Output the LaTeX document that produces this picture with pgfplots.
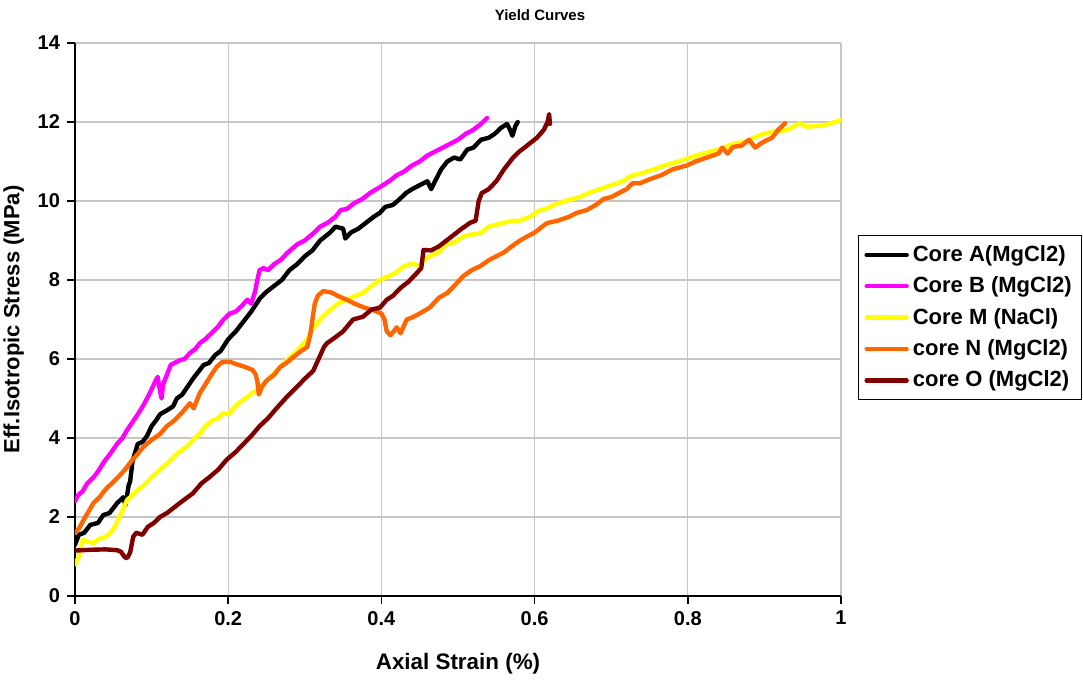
\documentclass[border=0pt]{standalone}
\usepackage{fontspec}
\setmainfont{Liberation Sans}
\usepackage{pgfplots}
\pgfplotsset{compat=1.18}
\definecolor{cA}{RGB}{0,0,0}
\definecolor{cB}{RGB}{255,0,255}
\definecolor{cM}{RGB}{255,255,0}
\definecolor{cN}{RGB}{255,102,0}
\definecolor{cO}{RGB}{128,0,0}
\begin{document}
\begin{tikzpicture}
\useasboundingbox (-37.5pt,-44pt) rectangle (504pt,298pt);
\begin{axis}[at={(0,0)}, anchor=south west, scale only axis,
  width=383pt, height=276.5pt,
  xmin=0, xmax=1, ymin=0, ymax=14,
  xtick={0,0.2,0.4,0.6,0.8,1}, ytick={0,2,4,6,8,10,12,14},
  xticklabels={0,0.2,0.4,0.6,0.8,1},
  axis x line*=bottom, axis y line*=left,
  axis line style={black, line width=1pt},
  tick align=outside, major tick length=4pt,
  tick style={black, line width=0.8pt},
  grid=major, major grid style={gray!45, line width=0.6pt},
  /pgf/number format/assume math mode=true,
  ticklabel style={font=\bfseries\fontsize{10}{12}\selectfont},
  xlabel={Axial Strain (\%)}, ylabel={Eff.Isotropic Stress (MPa)},
  xlabel style={font=\bfseries\fontsize{11.2}{13}\selectfont, at={(axis description cs:0.5,0)}, anchor=north, yshift=-25pt},
  ylabel style={font=\bfseries\fontsize{11}{13}\selectfont, at={(axis description cs:0,0.5)}, anchor=south, yshift=22pt},
  legend cell align=left,
  legend style={at={(1.022,0.653)}, anchor=north west, draw=black, line width=0.6pt,
    font=\bfseries\fontsize{11}{13}\selectfont, row sep=2.2pt, inner sep=3pt},
  legend image code/.code={\draw[line width=2.2pt] (0pt,0pt) -- (20pt,0pt);},
  every axis plot/.append style={line width=2.2pt, line join=round, line cap=round},
]
\addplot[cA] coordinates {
(0,1.3)(0.005,1.55)(0.012,1.6)(0.02,1.8)(0.03,1.85)(0.037,2.05)(0.045,2.1)(0.055,2.35)
(0.063,2.5)(0.066,2.3)(0.07,2.8)(0.072,2.9)(0.075,3.4)(0.078,3.6)(0.082,3.85)(0.088,3.9)
(0.094,4.05)(0.1,4.3)(0.106,4.45)(0.111,4.6)(0.12,4.7)(0.128,4.8)(0.133,5.0)(0.14,5.1)
(0.147,5.3)(0.154,5.5)(0.16,5.65)(0.168,5.85)(0.175,5.9)(0.183,6.1)(0.19,6.2)(0.2,6.5)
(0.21,6.7)(0.22,6.95)(0.23,7.2)(0.242,7.55)(0.25,7.7)(0.26,7.85)(0.27,8.0)(0.28,8.25)
(0.29,8.4)(0.3,8.6)(0.31,8.75)(0.32,9.0)(0.333,9.2)(0.34,9.35)(0.35,9.3)(0.353,9.05)
(0.36,9.2)(0.37,9.3)(0.38,9.45)(0.39,9.6)(0.398,9.7)(0.405,9.85)(0.415,9.9)(0.424,10.05)
(0.432,10.2)(0.44,10.3)(0.45,10.4)(0.46,10.5)(0.465,10.3)(0.47,10.5)(0.478,10.8)(0.486,11.0)
(0.495,11.1)(0.503,11.05)(0.512,11.3)(0.52,11.35)(0.53,11.55)(0.54,11.6)(0.548,11.7)
(0.556,11.85)(0.564,11.95)(0.568,11.8)(0.571,11.65)(0.575,11.9)(0.578,12.0)};
\addlegendentry{Core A(MgCl2)}
\addplot[cB] coordinates {
(0,2.4)(0.004,2.55)(0.01,2.65)(0.016,2.85)(0.024,3.0)(0.03,3.15)(0.038,3.4)(0.046,3.6)
(0.055,3.85)(0.062,4.0)(0.068,4.2)(0.075,4.4)(0.082,4.6)(0.09,4.85)(0.098,5.15)(0.104,5.4)
(0.108,5.55)(0.11,5.3)(0.113,5.0)(0.115,5.35)(0.12,5.6)(0.125,5.85)(0.13,5.9)(0.137,5.97)
(0.143,6.0)(0.15,6.15)(0.157,6.25)(0.163,6.4)(0.17,6.5)(0.178,6.65)(0.186,6.8)(0.194,7.0)
(0.202,7.15)(0.21,7.2)(0.218,7.35)(0.225,7.5)(0.23,7.4)(0.235,7.7)(0.238,8.0)(0.241,8.25)
(0.246,8.3)(0.252,8.25)(0.26,8.4)(0.268,8.5)(0.278,8.7)(0.29,8.9)(0.3,9.0)(0.311,9.18)
(0.32,9.35)(0.33,9.45)(0.34,9.6)(0.347,9.77)(0.355,9.8)(0.365,9.95)(0.375,10.05)(0.385,10.2)
(0.398,10.35)(0.41,10.5)(0.42,10.65)(0.43,10.75)(0.44,10.9)(0.45,11.0)(0.46,11.15)
(0.47,11.25)(0.48,11.35)(0.49,11.45)(0.5,11.55)(0.51,11.7)(0.52,11.8)(0.53,11.95)(0.538,12.1)};
\addlegendentry{Core B (MgCl2)}
\addplot[cM] coordinates {
(0,0.8)(0.005,1.0)(0.01,1.42)(0.016,1.38)(0.024,1.34)(0.032,1.45)(0.04,1.5)(0.046,1.6)
(0.052,1.75)(0.058,2.0)(0.063,2.2)(0.068,2.43)(0.075,2.55)(0.083,2.7)(0.09,2.8)(0.1,3.0)
(0.111,3.2)(0.12,3.35)(0.13,3.55)(0.14,3.7)(0.147,3.8)(0.154,3.95)(0.163,4.1)(0.17,4.3)
(0.18,4.45)(0.187,4.5)(0.193,4.63)(0.2,4.6)(0.207,4.75)(0.215,4.9)(0.225,5.04)(0.232,5.15)
(0.238,5.2)(0.245,5.35)(0.255,5.55)(0.268,5.8)(0.278,6.0)(0.29,6.2)(0.303,6.5)(0.31,6.75)
(0.318,6.95)(0.325,7.1)(0.333,7.24)(0.343,7.4)(0.355,7.5)(0.366,7.6)(0.376,7.67)(0.387,7.85)
(0.398,8.0)(0.41,8.1)(0.42,8.2)(0.43,8.35)(0.441,8.42)(0.45,8.35)(0.455,8.5)(0.463,8.6)
(0.475,8.7)(0.485,8.9)(0.495,8.95)(0.507,9.1)(0.517,9.15)(0.529,9.18)(0.54,9.35)(0.55,9.4)
(0.56,9.45)(0.57,9.5)(0.58,9.5)(0.594,9.6)(0.605,9.75)(0.615,9.8)(0.625,9.9)(0.64,10.0)
(0.659,10.1)(0.67,10.2)(0.685,10.3)(0.7,10.4)(0.715,10.5)(0.728,10.65)(0.74,10.7)(0.755,10.8)
(0.77,10.9)(0.788,11.0)(0.803,11.1)(0.82,11.2)(0.84,11.3)(0.86,11.45)(0.875,11.5)
(0.894,11.67)(0.91,11.75)(0.93,11.8)(0.946,11.97)(0.955,11.88)(0.97,11.9)(0.985,11.95)(1.0,12.05)};
\addlegendentry{Core M (NaCl)}
\addplot[cN] coordinates {
(0,1.6)(0.005,1.7)(0.012,1.95)(0.018,2.15)(0.024,2.35)(0.032,2.5)(0.04,2.7)(0.048,2.85)
(0.056,3.0)(0.063,3.15)(0.068,3.27)(0.075,3.45)(0.082,3.6)(0.089,3.77)(0.1,3.95)(0.111,4.1)
(0.12,4.3)(0.13,4.45)(0.14,4.65)(0.15,4.88)(0.155,4.75)(0.163,5.14)(0.17,5.35)(0.178,5.6)
(0.185,5.8)(0.192,5.92)(0.202,5.93)(0.212,5.86)(0.222,5.8)(0.232,5.72)(0.236,5.6)(0.238,5.45)
(0.24,5.1)(0.244,5.3)(0.25,5.45)(0.26,5.6)(0.268,5.8)(0.276,5.9)(0.285,6.05)(0.295,6.2)
(0.303,6.3)(0.307,6.6)(0.31,7.0)(0.313,7.4)(0.317,7.6)(0.324,7.72)(0.335,7.68)(0.345,7.58)
(0.355,7.5)(0.365,7.4)(0.378,7.3)(0.389,7.24)(0.4,7.15)(0.404,7.0)(0.407,6.7)(0.412,6.6)
(0.416,6.7)(0.42,6.8)(0.425,6.65)(0.433,7.0)(0.44,7.05)(0.45,7.15)(0.463,7.3)(0.475,7.55)
(0.486,7.67)(0.495,7.85)(0.507,8.1)(0.518,8.25)(0.529,8.35)(0.54,8.5)(0.55,8.6)(0.56,8.7)
(0.57,8.85)(0.581,9.0)(0.59,9.1)(0.6,9.2)(0.616,9.44)(0.63,9.5)(0.645,9.6)(0.655,9.7)
(0.668,9.77)(0.68,9.9)(0.69,10.05)(0.7,10.1)(0.71,10.2)(0.72,10.3)(0.728,10.45)(0.738,10.45)
(0.75,10.55)(0.765,10.65)(0.78,10.8)(0.799,10.9)(0.81,11.0)(0.825,11.1)(0.84,11.2)
(0.845,11.35)(0.852,11.2)(0.859,11.37)(0.87,11.4)(0.88,11.55)(0.888,11.35)(0.895,11.45)
(0.903,11.54)(0.91,11.6)(0.918,11.8)(0.927,11.97)};
\addlegendentry{core N (MgCl2)}
\addplot[cO] coordinates {
(0,1.15)(0.02,1.17)(0.04,1.18)(0.055,1.16)(0.06,1.12)(0.065,0.98)(0.068,0.96)(0.072,1.1)
(0.076,1.5)(0.08,1.6)(0.088,1.55)(0.095,1.75)(0.103,1.85)(0.111,2.0)(0.12,2.1)(0.13,2.25)
(0.14,2.4)(0.154,2.6)(0.165,2.85)(0.175,3.0)(0.187,3.2)(0.198,3.45)(0.21,3.65)(0.22,3.85)
(0.23,4.05)(0.241,4.3)(0.252,4.5)(0.263,4.75)(0.277,5.05)(0.29,5.3)(0.3,5.5)(0.311,5.7)
(0.318,6.0)(0.325,6.3)(0.329,6.4)(0.34,6.55)(0.35,6.7)(0.363,7.0)(0.376,7.07)(0.387,7.25)
(0.398,7.3)(0.407,7.5)(0.415,7.6)(0.425,7.8)(0.435,7.95)(0.445,8.15)(0.452,8.3)(0.455,8.76)
(0.465,8.75)(0.475,8.85)(0.485,9.0)(0.495,9.15)(0.505,9.3)(0.516,9.45)(0.523,9.5)(0.527,10.0)
(0.531,10.2)(0.54,10.3)(0.55,10.5)(0.56,10.8)(0.572,11.1)(0.58,11.25)(0.59,11.4)(0.603,11.6)
(0.612,11.8)(0.617,12.0)(0.619,12.2)(0.62,11.95)};
\addlegendentry{core O (MgCl2)}
\end{axis}
\node[font=\bfseries\fontsize{7.5}{9}\selectfont] at (232.5pt,290.5pt) {Yield Curves};
\end{tikzpicture}
\end{document}
